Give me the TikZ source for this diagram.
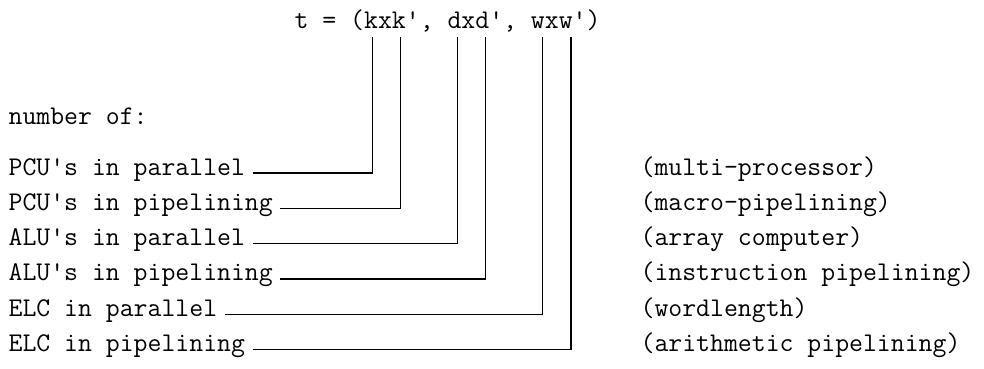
\documentclass[tikz,border=0pt]{standalone}
\usetikzlibrary{calc}

\newcommand{\q}{\textquotesingle}
\def\cw{14.2}

\begin{document}
\begin{tikzpicture}[x=1pt, y=-1pt, line width=1.2pt,
	tt/.style={inner sep=0pt, anchor=base west, font=\ttfamily\fontsize{27}{32}\selectfont}]
	\useasboundingbox (0,0) rectangle (984,368);
	\node[tt] (tuple) at (294,28) {t = (kxk\q, dxd\q, wxw\q)};
	% tops of the hooks, under each factor of the tuple
	\foreach \c/\i in {k1/5,k2/7,d1/11,d2/13,w1/17,w2/19}
		\coordinate (\c) at ([xshift={(\i+0.5)*\cw}, yshift=-9pt]tuple.base west);
	\node[tt] (numof) at (8,124) {number of:};
	\foreach \lbl/\rem/\top [count=\n from 0] in {
		{PCU\q s in parallel}/{(multi-processor)}/k1,
		{PCU\q s in pipelining}/{(macro-pipelining)}/k2,
		{ALU\q s in parallel}/{(array computer)}/d1,
		{ALU\q s in pipelining}/{(instruction pipelining)}/d2,
		{ELC in parallel}/{(wordlength)}/w1,
		{ELC in pipelining}/{(arithmetic pipelining)}/w2} {
		\node[tt] (unit\n) at (8,{175+35.3*\n}) {\lbl};
		\node[tt] (mode\n) at (640,{175+35.3*\n}) {\rem};
		\draw ([xshift=7pt, yshift=2pt]unit\n.base east) -| (\top);
	}
\end{tikzpicture}
\end{document}
